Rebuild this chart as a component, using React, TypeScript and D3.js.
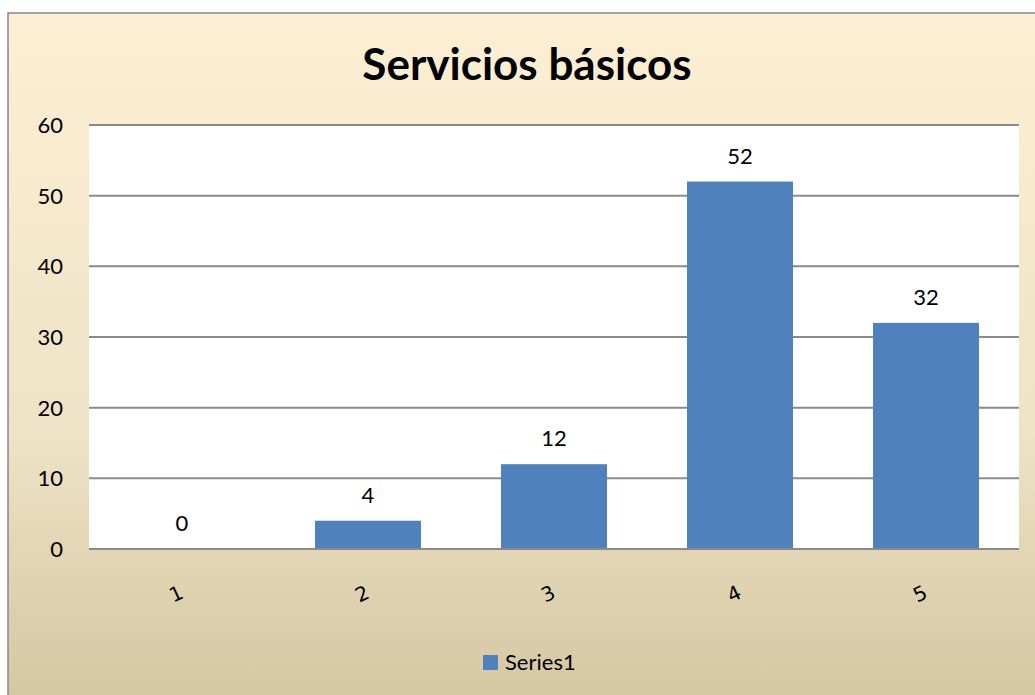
import React from "react";
import * as d3 from "d3";

const categories = ["1", "2", "3", "4", "5"];
const values = [0, 4, 12, 52, 32];
const yTicks = [0, 10, 20, 30, 40, 50, 60];
const title = "Servicios básicos";
const seriesName = "Series1";

export default function App() {
  const W = 1035, H = 695;
  const left = 89, right = 1019, top = 125, bottom = 549;
  const x = d3.scaleBand<string>().domain(categories).range([left, right]).paddingInner(0.43).paddingOuter(0.215);
  const y = d3.scaleLinear().domain([0, 60]).range([bottom, top]);
  const font = "Lato, 'Open Sans', sans-serif";
  return (
    <svg width={W} height={H} style={{ position: "absolute", left: 0, top: 0 }}>
      <defs>
        <linearGradient id="bg" x1="0" y1="0" x2="0" y2="1">
          <stop offset="0" stopColor="#fdefd4" />
          <stop offset="0.6" stopColor="#eee3c6" />
          <stop offset="1" stopColor="#d4c5a1" />
        </linearGradient>
      </defs>
      <rect x={8} y={13} width={1040} height={700} fill="url(#bg)" stroke="#878787" strokeWidth={1.5} />
      <text x={527} y={80} textAnchor="middle" fontFamily={font} fontWeight="bold" fontSize={44} fill="#000">{title}</text>
      <rect x={left} y={top} width={right - left} height={bottom - top} fill="#fff" />
      {yTicks.map((t) => (
        <g key={t}>
          <line x1={left} x2={right} y1={y(t)} y2={y(t)} stroke="#8a8a8a" strokeWidth={2} />
          <text x={63} y={y(t)} dy="0.36em" textAnchor="end" fontFamily={font} fontSize={22} fill="#000">{t}</text>
        </g>
      ))}
      {values.map((v, i) => (
        <g key={i}>
          <rect x={x(categories[i])!} y={y(v)} width={x.bandwidth()} height={bottom - y(v)} fill="#4f81bd" />
          <text x={x(categories[i])! + x.bandwidth() / 2} y={y(v) - 18} textAnchor="middle" fontFamily={font} fontSize={22} fill="#000">{v}</text>
        </g>
      ))}
      <line x1={left} x2={right} y1={bottom} y2={bottom} stroke="#8a8a8a" strokeWidth={2} />
      {categories.map((c) => {
        const cx = x(c)! + x.bandwidth() / 2 - 3;
        return (
          <text key={c} transform={`translate(${cx},${600}) rotate(-25)`} textAnchor="middle" fontFamily="'DejaVu Sans', sans-serif" fontSize={20} fill="#000">{c}</text>
        );
      })}
      <rect x={483} y={655} width={15} height={15} fill="#4f81bd" />
      <text x={505} y={670} fontFamily={font} fontSize={22} fill="#000">{seriesName}</text>
    </svg>
  );
}
